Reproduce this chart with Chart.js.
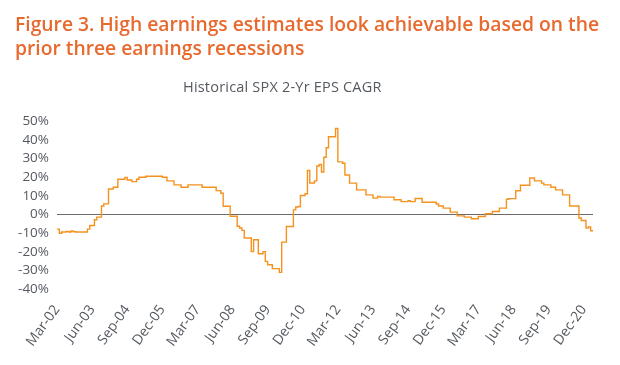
<!DOCTYPE html>
<html>
<head>
<meta charset="utf-8">
<script src="https://cdn.jsdelivr.net/npm/chart.js@4.4.0/dist/chart.umd.min.js"></script>
<style>
  html, body { margin: 0; padding: 0; background: #fff; }
  #wrap { position: relative; width: 620px; height: 365px; overflow: hidden; }
  #title {
    position: absolute; left: 15px; top: 12px;
    font: 600 19.3px "Open Sans", sans-serif; line-height: 24px;
    color: #E8692E; white-space: nowrap;
  }
  #subtitle {
    position: absolute; left: 183px; top: 79px;
    font: 400 14.5px "Open Sans", sans-serif; line-height: 16px; letter-spacing: 0.2px;
    color: #555a60; white-space: nowrap;
  }
  #chart { position: absolute; left: 0; top: 0; }
</style>
</head>
<body>
<div id="wrap">
  <canvas id="chart" width="620" height="365"></canvas>
  <div id="title">Figure 3. High earnings estimates look achievable based on the<br>prior three earnings recessions</div>
  <div id="subtitle">Historical SPX 2-Yr EPS CAGR</div>
</div>
<script>
// monthly SPX 2-yr EPS CAGR (%), Mar-02 .. Apr-21
var cagr2002 = [-7.9, -10.1, -9.5, -9.5, -9.2, -9.5, -8.9, -9.3, -9.5, -9.5];              // Mar-02..Dec-02
var cagr2003 = [-9.5, -9.5, -9.5, -7.9, -6.0, -6.0, -2.9, -1.5, -1.5, 4.5, 5.6, 5.6];
var cagr2004 = [13.6, 13.6, 14.5, 14.5, 18.8, 18.8, 18.8, 19.7, 18.4, 18.4, 17.5, 17.5];
var cagr2005 = [18.8, 19.9, 19.9, 19.9, 20.4, 20.4, 20.4, 20.4, 20.4, 20.4, 20.4, 19.9];
var cagr2006 = [19.9, 17.9, 17.9, 17.9, 15.8, 15.8, 15.8, 14.5, 14.5, 14.5, 15.8, 15.8];
var cagr2007 = [15.8, 15.8, 15.8, 15.8, 14.5, 14.5, 14.5, 14.5, 14.5, 14.5, 12.7, 12.7];
var cagr2008 = [11.3, 4.3, 4.3, 4.3, -1.0, -1.0, -1.0, -6.4, -7.3, -8.6, -12.7, -12.7];
var cagr2009 = [-12.7, -20.0, -13.6, -13.6, -21.1, -21.1, -20.0, -25.2, -27.0, -27.0, -29.1, -29.1];
var cagr2010 = [-29.1, -31.1, -14.9, -14.9, -6.5, -6.5, -6.5, 2.4, 3.9, 4.2, 10.1, 10.1];
var cagr2011 = [11.0, 23.5, 16.8, 16.8, 17.9, 25.9, 26.7, 22.7, 30.6, 35.7, 41.6, 41.6];
var cagr2012 = [41.6, 46.0, 28.1, 28.1, 27.4, 21.1, 21.1, 16.7, 16.7, 16.7, 13.1, 13.1];
var cagr2013 = [13.1, 13.1, 10.4, 10.4, 10.4, 8.7, 8.7, 9.6, 9.2, 9.2, 9.2, 9.2];
var cagr2014 = [9.2, 9.2, 7.8, 7.8, 7.8, 6.8, 6.8, 6.8, 7.3, 6.8, 6.8, 8.5];
var cagr2015 = [8.5, 8.5, 6.5, 6.5, 6.5, 6.5, 6.5, 6.5, 5.5, 4.5, 4.5, 3.3];
var cagr2016 = [3.3, 3.3, 1.2, 1.2, 1.2, -0.8, -0.8, -0.8, -1.5, -1.5, -1.5, -2.4];
var cagr2017 = [-2.4, -2.4, -1.2, -1.2, -1.2, 0.3, 0.3, 0.3, 1.5, 1.5, 1.5, 3.3];
var cagr2018 = [3.3, 3.3, 8.1, 8.4, 8.4, 8.4, 12.6, 12.6, 15.6, 15.6, 15.6, 15.6];
var cagr2019 = [19.5, 19.5, 17.9, 17.9, 17.9, 16.7, 15.8, 15.8, 15.8, 14.5, 14.5, 13.1];
var cagr2020 = [13.1, 13.1, 10.4, 10.4, 10.4, 4.5, 4.5, 4.5, 4.5, -2.0, -3.3, -3.3];
var cagr2021 = [-7.4, -6.8, -8.8, -8.8];                                              // Jan-21..Apr-21

var tickLabels = ['Mar-02', 'Jun-03', 'Sep-04', 'Dec-05', 'Mar-07', 'Jun-08', 'Sep-09', 'Dec-10',
                  'Mar-12', 'Jun-13', 'Sep-14', 'Dec-15', 'Mar-17', 'Jun-18', 'Sep-19', 'Dec-20'];
var yTicks = [50, 40, 30, 20, 10, 0, -10, -20, -30, -40];

var monthNames = ['Jan', 'Feb', 'Mar', 'Apr', 'May', 'Jun', 'Jul', 'Aug', 'Sep', 'Oct', 'Nov', 'Dec'];

var values = [].concat(cagr2002, cagr2003, cagr2004, cagr2005, cagr2006, cagr2007, cagr2008,
    cagr2009, cagr2010, cagr2011, cagr2012, cagr2013, cagr2014, cagr2015, cagr2016, cagr2017,
    cagr2018, cagr2019, cagr2020, cagr2021);

// one category per month starting Mar-02
var labels = [];
for (var i = 0; i < values.length; i++) {
    var m = (2 + i) % 12;
    var yr = 2002 + Math.floor((2 + i) / 12);
    labels.push(monthNames[m] + '-' + String(yr).slice(2));
}

var tickColor = '#555a60';

var ctx = document.getElementById('chart').getContext('2d');
var chart = new Chart(ctx, {
    type: 'line',
    data: {
        labels: labels,
        datasets: [{
            data: values,
            borderColor: '#F5921E',
            borderWidth: 1.4,
            stepped: true,
            pointRadius: 0,
            fill: false
        }]
    },
    options: {
        responsive: false,
        animation: false,
        layout: { padding: { top: 121, right: 27, bottom: 0, left: 0 } },
        plugins: {
            legend: { display: false },
            tooltip: { enabled: false }
        },
        scales: {
            x: {
                grid: { display: false, drawTicks: false },
                border: { display: false },
                afterFit: function(scale) { scale.height = 76; },
                ticks: {
                    autoSkip: false,
                    minRotation: 54,
                    maxRotation: 54,
                    padding: 13,
                    color: tickColor,
                    font: { family: 'Open Sans', size: 14 },
                    callback: function(value, index) {
                        var lab = labels[index];
                        return tickLabels.indexOf(lab) >= 0 ? lab : null;
                    }
                }
            },
            y: {
                min: -40,
                max: 50,
                afterFit: function(scale) { scale.width = 57; },
                afterBuildTicks: function(scale) {
                    scale.ticks = yTicks.map(function(v) { return { value: v }; });
                },
                border: { display: false },
                grid: {
                    drawTicks: false,
                    lineWidth: 1,
                    color: function(c) { return c.tick && c.tick.value === 0 ? '#6b6b6b' : 'rgba(0,0,0,0)'; }
                },
                ticks: {
                    autoSkip: false,
                    padding: 8,
                    color: tickColor,
                    font: { family: 'Open Sans', size: 13.5 },
                    callback: function(v) { return v + '%'; }
                }
            }
        }
    }
});
</script>
</body>
</html>
